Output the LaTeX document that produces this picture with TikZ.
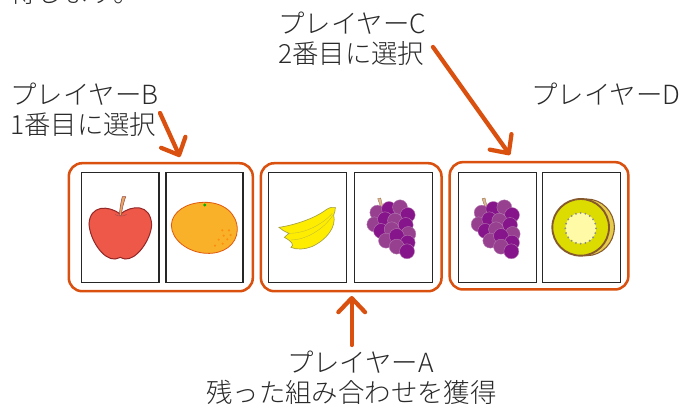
\documentclass[tikz,border=0pt]{standalone}
\usepackage{fontspec}
\setmainfont{Noto Sans CJK JP Light}
\usetikzlibrary{arrows.meta}
\definecolor{accent}{HTML}{D9500F}
\definecolor{txt}{HTML}{2A2A2A}
\definecolor{grapeA}{HTML}{86148A}
\definecolor{grapeB}{HTML}{96408F}
\definecolor{appleC}{HTML}{EE5848}
\definecolor{orangeC}{HTML}{F9B12A}
\definecolor{kiwiC}{HTML}{DCDC00}
\tikzset{
  label text/.style={text=txt,font=\fontsize{19.8pt}{22.5pt}\selectfont,inner sep=0pt,align=left},
  group box/.style={draw=accent,line width=1.9pt,rounded corners=10pt,fill=white,inner sep=0pt},
  card box/.style={draw=black!85,line width=1.1pt,fill=white,inner sep=0pt},
  pointer/.style={draw=accent,line width=3.2pt,line cap=round,-{Straight Barb[length=10.5pt,width=20pt,round]}},
  grape/.style={draw=grapeB!70!white,line width=.3pt},
  grapes/.pic={
    \begin{scope}[x=.25pt,y=-.25pt,shift={(-410,-235)}]
      \fill[draw=brown!70!black,line width=.2pt,fill=brown!55!white] (368,146)--(377,144)--(385,178)--(380,180)--cycle;
      \foreach \px/\py/\gc in {367/188/grapeB,402/177/grapeA,435/172/grapeB,458/195/grapeA,358/223/grapeB,390/208/grapeA,420/212/grapeB,452/225/grapeA,378/243/grapeA,410/238/grapeB,460/252/grapeB,393/272/grapeB,425/258/grapeA,458/278/grapeA,425/290/grapeB,456/304/grapeA}
        \fill[\gc,grape] (\px,\py) circle (5.6pt);
    \end{scope}
  }
}
\begin{document}
\begin{tikzpicture}[x=.75pt,y=-.75pt]
\path[use as bounding box,clip] (0,0) rectangle (682,405);
\fill[white] (0,0) rectangle (682,405);
% group frames
\node[group box,minimum width=138pt,minimum height=96pt] (g1) at (160.8,227.2) {};
\node[group box,minimum width=135.5pt,minimum height=96pt] (g2) at (351.2,227.2) {};
\node[group box,minimum width=134pt,minimum height=95.5pt] (g3) at (539,225.8) {};
% cards
\node[card box,minimum width=58pt,minimum height=82.5pt] (c1) at (120.4,227.7) {};
\node[card box,minimum width=58pt,minimum height=82.5pt] (c2) at (204.5,227.7) {};
\node[card box,minimum width=58.5pt,minimum height=82.5pt] (c3) at (307.7,227.7) {};
\node[card box,minimum width=58.5pt,minimum height=82.5pt] (c4) at (393.3,227.7) {};
\node[card box,minimum width=58.5pt,minimum height=82.5pt] (c5) at (497.3,227.7) {};
\node[card box,minimum width=58.5pt,minimum height=82.5pt] (c6) at (581.7,227.7) {};
% apple and orange
\begin{scope}[shift={(60,150)},x=.25pt,y=-.25pt]
  \filldraw[fill=appleC,draw=red!50!black!85!white,line width=.75pt]
    (181,192) .. controls (215,165) and (272,160) .. (275,225)
    .. controls (272,270) and (230,330) .. (195,327)
    .. controls (188,327) and (185,322) .. (181,322)
    .. controls (177,322) and (172,327) .. (165,327)
    .. controls (130,330) and (90,270) .. (87,222)
    .. controls (90,165) and (145,165) .. (181,192) -- cycle;
  \filldraw[fill=orange!50!brown!70!white,draw=red!40!black!70!white,line width=.4pt]
    (178,196) .. controls (180,170) and (183,155) .. (187,140) -- (197,140)
    .. controls (192,155) and (186,175) .. (184,196) -- cycle;
  \draw[red!50!black!70!white,line width=.3pt] (165,193) .. controls (172,200) and (192,200) .. (200,193);
  \filldraw[fill=orangeC,draw=accent!80!orange,line width=.6pt]
    (430,157) .. controls (490,155) and (532,190) .. (532,240)
    .. controls (530,285) and (490,312) .. (440,310)
    .. controls (385,308) and (334,270) .. (334,225)
    .. controls (336,185) and (380,158) .. (430,157) -- cycle;
  \fill[green!70!black] (434,165) circle (1.2pt);
  \foreach \px/\py in {487/241,507/241,512/255,491/257,476/269,502/268,488/281,465/287}
    \fill[orange!70!orangeC] (\px,\py) circle (.9pt);
\end{scope}
% banana
\begin{scope}[shift={(255,150)},x=.25pt,y=-.25pt]
  \filldraw[fill=yellow!95!orange,draw=yellow!60!black,line width=.5pt]
    (72,232) .. controls (120,225) and (180,205) .. (215,178)
    .. controls (225,172) and (235,170) .. (241,172)
    .. controls (242,182) and (238,188) .. (236,195)
    .. controls (245,230) and (215,270) .. (170,290)
    .. controls (150,298) and (125,300) .. (108,292)
    .. controls (118,285) and (112,275) .. (88,262)
    .. controls (95,255) and (100,252) .. (102,250)
    .. controls (90,245) and (80,240) .. (72,232) -- cycle;
  \draw[yellow!75!black,line width=.3pt] (102,250) .. controls (150,250) and (200,225) .. (232,190);
  \draw[yellow!75!black,line width=.3pt] (108,270) .. controls (150,270) and (205,240) .. (234,195);
\end{scope}
\pic at (391.7,228.3) {grapes};
\pic at (496,228.3) {grapes};
% kiwi
\begin{scope}[shift={(445,150)},x=.25pt,y=-.25pt]
  \filldraw[fill=brown!50!yellow!80!white,draw=brown!70!black,line width=.8pt] (425,232) ellipse [x radius=83,y radius=85];
  \filldraw[fill=kiwiC,draw=brown!70!black,line width=1.4pt] (407,232) ellipse [x radius=85,y radius=85];
  \fill[yellow!35!white] (407,235) circle (11.5pt);
  \foreach \a in {0,18,...,342}
    \fill[black!45] ({407+46*cos(\a)},{235+46*sin(\a)}) circle (.8pt);
\end{scope}
% labels
\node[label text,anchor=west] (top) at (10,-7) {得します。};
\node[label text,anchor=west] (pb) at (10,110) {プレイヤーB\\[-.1pt]1番目に選択};
\node[label text,anchor=west] (pc) at (278,39) {プレイヤーC\\[-.1pt]2番目に選択};
\node[label text,anchor=west] (pd) at (531,94) {プレイヤーD};
\node[label text,align=center] (pa) at (351.5,378) {\hspace*{13.5pt}プレイヤーA\\[-.1pt]残った組み合わせを獲得};
% arrows
\coordinate (bs) at (160,113); \coordinate (be) at (180,157);
\coordinate (cs) at (433,47);  \coordinate (ce) at (510,155);
\coordinate (as) at (351.7,345); \coordinate (ae) at (351.7,296);
\draw[pointer] (bs) -- (be);
\draw[pointer] (cs) -- (ce);
\draw[pointer] (as) -- (ae);
\end{tikzpicture}
\end{document}
